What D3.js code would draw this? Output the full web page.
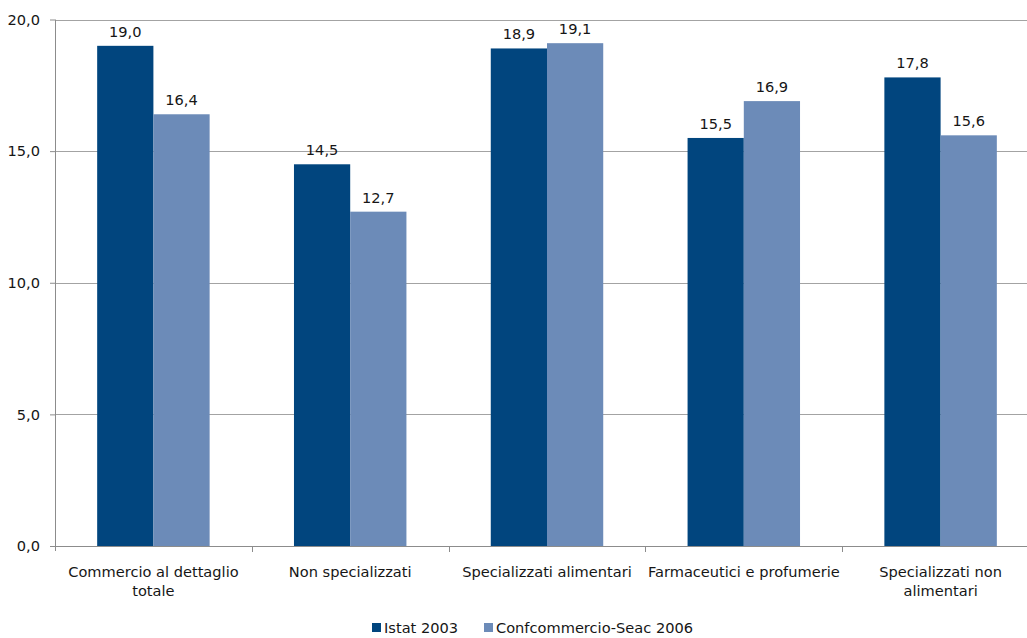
<!DOCTYPE html>
<html>
<head>
<meta charset="utf-8">
<script src="https://cdn.jsdelivr.net/npm/d3@7"></script>
<style>
  html, body { margin: 0; padding: 0; background: #fff; }
  svg { display: block; font-family: "DejaVu Sans", sans-serif; }
</style>
</head>
<body>
<svg id="chart" width="1027" height="638"></svg>
<script>
const categories = [
  "Commercio al dettaglio totale",
  "Non specializzati",
  "Specializzati alimentari",
  "Farmaceutici e profumerie",
  "Specializzati non alimentari"
];
const seriesNames = ["Istat 2003", "Confcommercio-Seac 2006"];
const istat2003 = [19.0, 14.5, 18.9, 15.5, 17.8];
const confcommercio2006 = [16.4, 12.7, 19.1, 16.9, 15.6];
const yTicks = [0, 5, 10, 15, 20];

const colors = ["#01457E", "#6C8BB8"];
const seriesValues = [istat2003, confcommercio2006];
const fontSize = 14.6;
const textColor = "#161616";

const svg = d3.select("#chart");
const plotLeft = 55, plotTop = 19.5, plotBottom = 546;
const step = 196.8;
const plotRight = plotLeft + step * categories.length;

const fmt = v => d3.format(".1f")(v).replace(".", ",");

const x = d3.scaleBand().domain(categories).range([plotLeft, plotRight]).paddingInner(0).paddingOuter(0);
const x1 = d3.scaleBand().domain(seriesNames).range([0, x.bandwidth()]).paddingInner(0).paddingOuter(0.75);
const y = d3.scaleLinear().domain([0, 20]).range([plotBottom, plotTop]);

// horizontal gridlines
svg.append("g")
  .selectAll("line")
  .data(yTicks.filter(t => t > 0))
  .join("line")
  .attr("x1", plotLeft).attr("x2", plotRight)
  .attr("y1", d => Math.round(y(d)) + 0.5).attr("y2", d => Math.round(y(d)) + 0.5)
  .attr("stroke", "#A3A3A3").attr("stroke-width", 1);

// bars
const rows = categories.map((c, i) => ({ cat: c, vals: seriesNames.map((s, j) => ({ s, j, v: seriesValues[j][i] })) }));
const groups = svg.append("g").selectAll("g").data(rows).join("g")
  .attr("transform", d => `translate(${x(d.cat)},0)`);

groups.selectAll("rect").data(d => d.vals).join("rect")
  .attr("x", d => x1(d.s))
  .attr("width", x1.bandwidth())
  .attr("y", d => y(d.v))
  .attr("height", d => y(0) - y(d.v))
  .attr("fill", d => colors[d.j]);

groups.selectAll("text").data(d => d.vals).join("text")
  .attr("x", d => x1(d.s) + x1.bandwidth() / 2)
  .attr("y", d => y(d.v) - 9)
  .attr("text-anchor", "middle")
  .attr("font-size", fontSize)
  .attr("fill", textColor)
  .text(d => fmt(d.v));

// y axis
const yAxis = svg.append("g").attr("transform", `translate(${plotLeft},0)`)
  .call(d3.axisLeft(y).tickValues(yTicks).tickSize(5).tickPadding(10).tickFormat(fmt));
yAxis.select(".domain").attr("stroke", "#8C8C8C").attr("d", `M0.5,${plotTop}V${plotBottom + 5}`);
yAxis.selectAll(".tick line").attr("stroke", "#8C8C8C");
yAxis.selectAll(".tick text").attr("font-size", fontSize).attr("fill", textColor).attr("font-family", "DejaVu Sans");

// x axis
svg.append("line").attr("x1", plotLeft).attr("x2", plotRight)
  .attr("y1", plotBottom + 0.5).attr("y2", plotBottom + 0.5)
  .attr("stroke", "#8C8C8C");
svg.append("g").selectAll("line").data(categories.slice(1)).join("line")
  .attr("x1", d => Math.round(x(d)) + 0.5).attr("x2", d => Math.round(x(d)) + 0.5)
  .attr("y1", plotBottom).attr("y2", plotBottom + 6)
  .attr("stroke", "#8C8C8C");

// category labels, wrapped to the band width
const catLabels = svg.append("g").selectAll("text").data(categories).join("text")
  .attr("x", d => x(d) + x.bandwidth() / 2)
  .attr("y", 577)
  .attr("text-anchor", "middle")
  .attr("font-size", fontSize)
  .attr("fill", textColor);

catLabels.each(function(d) {
  const t = d3.select(this);
  const words = d.split(" ");
  const maxW = x.bandwidth();
  let line = [];
  let tspan = t.append("tspan").attr("x", x(d) + x.bandwidth() / 2).attr("dy", 0);
  words.forEach(w => {
    line.push(w);
    tspan.text(line.join(" "));
    if (tspan.node().getComputedTextLength() > maxW && line.length > 1) {
      line.pop();
      tspan.text(line.join(" "));
      line = [w];
      tspan = t.append("tspan").attr("x", x(d) + x.bandwidth() / 2).attr("dy", 19).text(w);
    }
  });
});

// legend
const legend = svg.append("g").attr("transform", "translate(372,623)");
const legendX = [0, 112];
seriesNames.forEach((s, i) => {
  const g = legend.append("g").attr("transform", `translate(${legendX[i]},0)`);
  g.append("rect").attr("width", 9).attr("height", 9).attr("fill", colors[i]);
  g.append("text").attr("x", 12).attr("y", 10).attr("font-size", fontSize).attr("fill", textColor).text(s);
});
</script>
</body>
</html>
